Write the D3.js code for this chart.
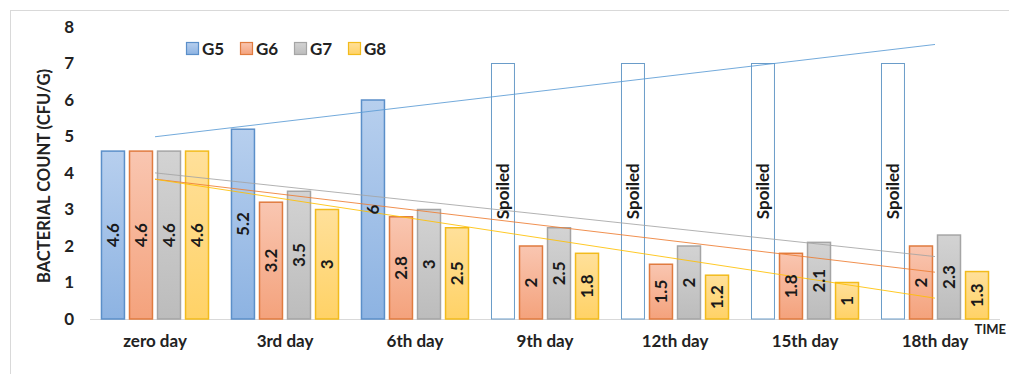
<!DOCTYPE html>
<html>
<head>
<meta charset="utf-8">
<script src="https://cdn.jsdelivr.net/npm/d3@7"></script>
<style>
  html, body { margin: 0; padding: 0; background: #fff; }
  svg { display: block; font-family: Lato, "Open Sans", sans-serif; }
</style>
</head>
<body>
<svg id="chart" width="1009" height="374"></svg>
<script>
// Storage days on the x axis
const categories = ["zero day", "3rd day", "6th day", "9th day", "12th day", "15th day", "18th day"];
const seriesNames = ["G5", "G6", "G7", "G8"];

// Bacterial counts per group (CFU/G); G5 spoiled from day 9 on, shown as an empty bar at 7
const g5 = [4.6, 5.2, 6, 7, 7, 7, 7];
const g5Spoiled = [false, false, false, true, true, true, true];
const g6 = [4.6, 3.2, 2.8, 2, 1.5, 1.8, 2];
const g7 = [4.6, 3.5, 3, 2.5, 2, 2.1, 2.3];
const g8 = [4.6, 3, 2.5, 1.8, 1.2, 1, 1.3];

const yTicks = [0, 1, 2, 3, 4, 5, 6, 7, 8];

const seriesValues = [g5, g6, g7, g8];
const palette = {
  G5: { top: "#b7cfee", bottom: "#8db3e2", stroke: "#5b8fc9", line: "#5b9bd5" },
  G6: { top: "#f9c6b1", bottom: "#f4a27c", stroke: "#e07b3f", line: "#ed7d31" },
  G7: { top: "#d3d3d3", bottom: "#bcbcbc", stroke: "#a5a5a5", line: "#a5a5a5" },
  G8: { top: "#ffe09a", bottom: "#ffd266", stroke: "#f2bb1c", line: "#ffc000" }
};

const svg = d3.select("#chart");

// Gradient fills for the bars
const defs = svg.append("defs");
seriesNames.forEach(s => {
  const g = defs.append("linearGradient").attr("id", "grad-" + s)
    .attr("x1", 0).attr("y1", 0).attr("x2", 0).attr("y2", 1);
  g.append("stop").attr("offset", "0%").attr("stop-color", palette[s].top);
  g.append("stop").attr("offset", "100%").attr("stop-color", palette[s].bottom);
});

// Outer frame
svg.append("rect")
  .attr("x", 10.5).attr("y", 10.5).attr("width", 1010).attr("height", 380)
  .attr("fill", "none").attr("stroke", "#d9d9d9").attr("stroke-width", 1);

const x = d3.scaleBand().domain(categories).range([90, 1000]).padding(0);
const x1 = d3.scaleBand().domain(seriesNames).range([0, x.bandwidth()])
  .paddingInner(0.18).paddingOuter(0.41);
const y = d3.scaleLinear().domain([0, 8]).range([319, 27]);

// Y axis tick labels
const yAxis = d3.axisLeft(y).tickValues(yTicks).tickSize(0).tickPadding(0).tickFormat(d3.format("d"));
svg.append("g")
  .attr("transform", "translate(74,0)")
  .call(yAxis)
  .call(g => g.select(".domain").remove())
  .call(g => g.selectAll("text")
    .attr("font-family", "Lato, sans-serif")
    .attr("font-size", 17).attr("font-weight", "bold").attr("fill", "#222"));

// Y axis title
svg.append("text")
  .attr("transform", "translate(50,176) rotate(-90)")
  .attr("text-anchor", "middle")
  .attr("font-size", 16.5).attr("font-weight", "bold").attr("fill", "#222")
  .text("BACTERIAL COUNT (CFU/G)");

// X baseline
svg.append("line")
  .attr("x1", 90).attr("x2", 1000).attr("y1", y(0) + 0.5).attr("y2", y(0) + 0.5)
  .attr("stroke", "#d9d9d9").attr("stroke-width", 1);

// Category labels
const xAxis = d3.axisBottom(x).tickSize(0).tickPadding(0);
svg.append("g")
  .attr("transform", "translate(0,335)")
  .call(xAxis)
  .call(g => g.select(".domain").remove())
  .call(g => g.selectAll("text")
    .attr("font-family", "Lato, sans-serif")
    .attr("font-size", 17).attr("font-weight", "bold").attr("fill", "#222"));

// Axis name at the right end of the baseline
svg.append("text")
  .attr("x", 1006).attr("y", 334)
  .attr("text-anchor", "end")
  .attr("font-size", 13).attr("font-weight", "bold").attr("fill", "#222")
  .text("TIME");

// Bars
const rows = [];
categories.forEach((c, i) => {
  seriesNames.forEach((s, k) => {
    rows.push({
      cat: c, series: s, value: seriesValues[k][i],
      spoiled: s === "G5" && g5Spoiled[i]
    });
  });
});

const barG = svg.append("g");
barG.selectAll("rect")
  .data(rows)
  .join("rect")
  .attr("x", d => x(d.cat) + x1(d.series))
  .attr("y", d => y(d.value))
  .attr("width", x1.bandwidth())
  .attr("height", d => y(0) - y(d.value))
  .attr("fill", d => d.spoiled ? "none" : `url(#grad-${d.series})`)
  .attr("stroke", d => d.spoiled ? "#6a9cc9" : palette[d.series].stroke)
  .attr("stroke-width", d => d.spoiled ? 1 : 1.5);

// Linear trend lines (least squares over day index)
function trend(values) {
  const n = values.length;
  const xs = d3.range(1, n + 1);
  const mx = d3.mean(xs), my = d3.mean(values);
  const sxy = d3.sum(xs, (xi, i) => (xi - mx) * (values[i] - my));
  const sxx = d3.sum(xs, xi => (xi - mx) ** 2);
  const b = sxy / sxx, a = my - b * mx;
  return [{ i: 0, v: a + b * 1 }, { i: n - 1, v: a + b * n }];
}
const lineGen = d3.line()
  .x(d => x(categories[d.i]) + x.bandwidth() / 2)
  .y(d => y(d.v));
seriesNames.forEach((s, k) => {
  svg.append("path")
    .attr("d", lineGen(trend(seriesValues[k])))
    .attr("fill", "none")
    .attr("stroke", palette[s].line)
    .attr("stroke-opacity", 0.85)
    .attr("stroke-width", 1);
});

// Value labels, rotated and centred in each bar
svg.append("g").selectAll("text")
  .data(rows)
  .join("text")
  .attr("transform", d => {
    const cx = x(d.cat) + x1(d.series) + x1.bandwidth() / 2;
    const cy = (y(d.value) + y(0)) / 2;
    return `translate(${cx},${cy}) rotate(-90)`;
  })
  .attr("text-anchor", "middle")
  .attr("dy", "0.36em")
  .attr("font-size", 17).attr("font-weight", "bold").attr("fill", "#1a1a1a")
  .text(d => d.spoiled ? "Spoiled" : d3.format("")(d.value));

// Legend
const legend = svg.append("g").attr("transform", "translate(186,42)");
seriesNames.forEach((s, k) => {
  const g = legend.append("g").attr("transform", `translate(${k * 54},0)`);
  g.append("rect").attr("x", 0.5).attr("y", 0.5).attr("width", 12).attr("height", 12)
    .attr("fill", `url(#grad-${s})`).attr("stroke", palette[s].stroke).attr("stroke-width", 1.2);
  g.append("text").attr("x", 16).attr("y", 13)
    .attr("font-size", 17).attr("font-weight", "bold").attr("fill", "#222")
    .text(s);
});
</script>
</body>
</html>
